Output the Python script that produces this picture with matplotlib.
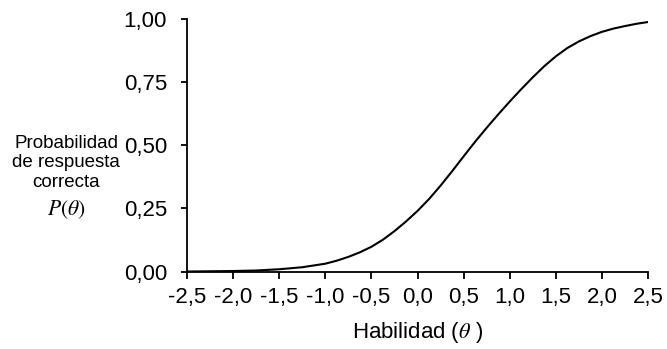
import matplotlib.pyplot as plt

plt.rcParams['font.family'] = ['Liberation Sans', 'DejaVu Sans']
plt.rcParams['mathtext.fontset'] = 'stix'

# Curva característica del ítem
theta = [-2.5, -2.25, -2.0, -1.75, -1.5, -1.25, -1.0, -0.875, -0.75, -0.625,
         -0.5, -0.375, -0.25, -0.125, 0.0, 0.125, 0.25, 0.375, 0.5, 0.625,
         0.75, 0.875, 1.0, 1.125, 1.25, 1.375, 1.5, 1.625, 1.75, 1.875,
         2.0, 2.125, 2.25, 2.375, 2.5]
prob = [0.000, 0.001, 0.002, 0.004, 0.009, 0.017, 0.031, 0.043, 0.058, 0.076,
        0.098, 0.126, 0.160, 0.198, 0.240, 0.287, 0.340, 0.397, 0.456, 0.514,
        0.569, 0.622, 0.673, 0.722, 0.769, 0.813, 0.852, 0.885, 0.911, 0.932,
        0.949, 0.962, 0.972, 0.981, 0.988]

xticks = [-2.5, -2.0, -1.5, -1.0, -0.5, 0.0, 0.5, 1.0, 1.5, 2.0, 2.5]
xlabels = ['-2,5', '-2,0', '-1,5', '-1,0', '-0,5', '0,0', '0,5', '1,0', '1,5', '2,0', '2,5']
yticks = [0.0, 0.25, 0.5, 0.75, 1.0]
ylabels = ['0,00', '0,25', '0,50', '0,75', '1,00']

fig = plt.figure(figsize=(6.67, 3.49), dpi=100)
ax = fig.add_axes([0.2804, 0.222, 0.6911, 0.7236])

ax.plot(theta, prob, color='black', lw=1.5, solid_joinstyle='round',
        solid_capstyle='round')

ax.set_xlim(-2.5, 2.5)
ax.set_ylim(0, 1)
ax.set_xticks(xticks)
ax.set_xticklabels(xlabels)
ax.set_yticks(yticks)
ax.set_yticklabels(ylabels)

for s in ['top', 'right']:
    ax.spines[s].set_visible(False)
for s in ['left', 'bottom']:
    ax.spines[s].set_linewidth(1.3)
ax.tick_params(axis='both', direction='out', width=1.3, labelsize=16, colors='black')
ax.tick_params(axis='x', length=5, pad=6)
ax.tick_params(axis='y', length=4.5, pad=10)

ax.set_xlabel(r'Habilidad ($\theta$ )', fontsize=16, labelpad=9)

# Etiqueta del eje vertical en varias líneas
fig.text(0.099, 0.577, 'Probabilidad', ha='center', va='baseline', fontsize=13.5)
fig.text(0.099, 0.522, 'de respuesta', ha='center', va='baseline', fontsize=13.5)
fig.text(0.099, 0.463, 'correcta', ha='center', va='baseline', fontsize=13.5)
fig.text(0.100, 0.383, r'$P(\theta)$', ha='center', va='baseline', fontsize=15.5)

fig.savefig('out.png', dpi=100)
